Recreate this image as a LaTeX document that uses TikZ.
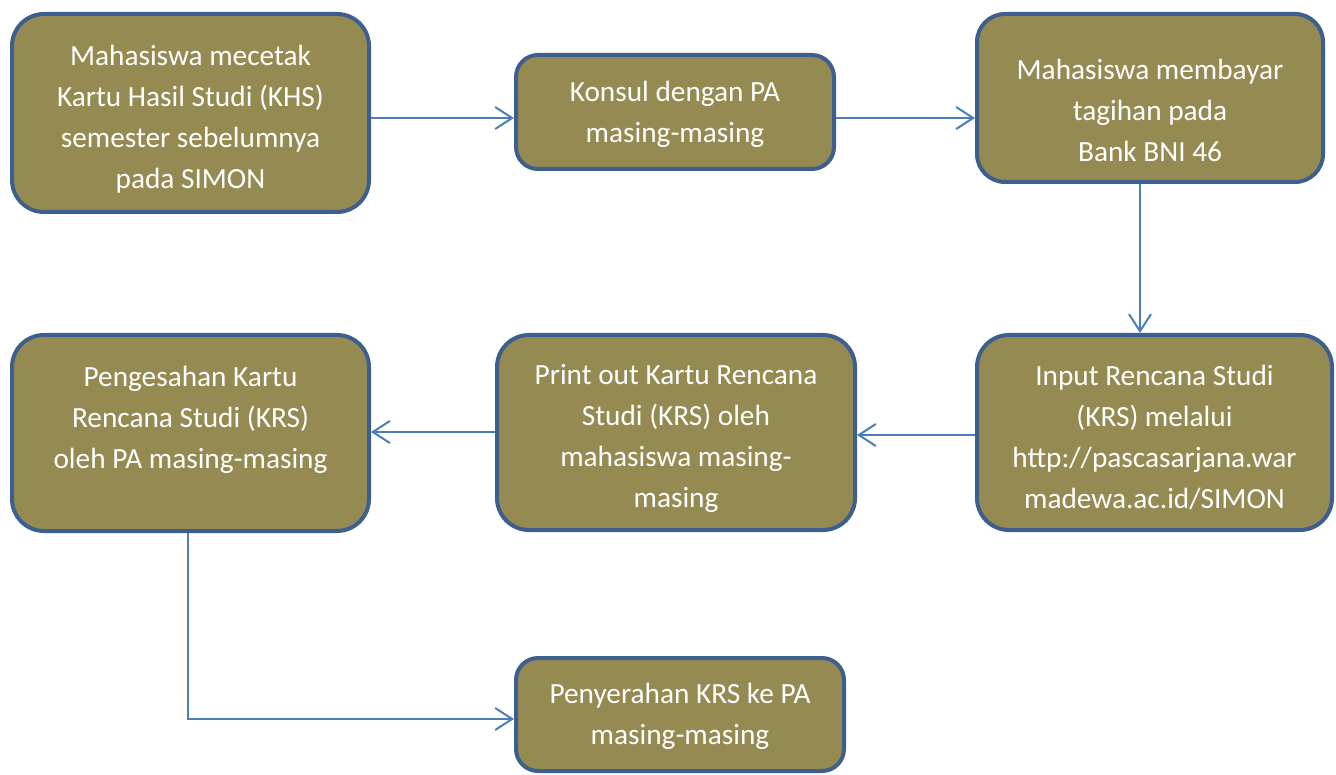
\documentclass[tikz,border=0pt]{standalone}
\usepackage{fontspec}
\setmainfont{Carlito}
\usetikzlibrary{arrows.meta,calc}
\definecolor{boxfill}{HTML}{958A52}
\definecolor{boxline}{HTML}{3C5F8E}
\definecolor{arrowc}{HTML}{4A7EBB}
% text block lowered (negative #1) or raised relative to the box centre
\newcommand\boxtext[2][-7pt]{\raisebox{#1}[0pt][0pt]{\begin{tabular}{@{}c@{}}#2\end{tabular}}}
\tikzset{
  flowbox/.style={draw=boxline, fill=boxfill, line width=4pt, rounded corners=#1,
    text=white, align=center, inner sep=0pt,
    font=\fontsize{29.3}{41}\selectfont},
  flowbox/.default=32pt,
  conn/.style={draw=arrowc, line width=2pt, -{Straight Barb[length=17pt,width=22pt,line width=2pt]}}
}
\begin{document}
\begin{tikzpicture}[x=1pt,y=-1pt]
\useasboundingbox (0,0) rectangle (1336,775);
\node[flowbox, minimum width=357pt, minimum height=198pt] (b1) at (190.5,113)
  {\boxtext[-12pt]{Mahasiswa mecetak\\Kartu Hasil Studi (KHS)\\semester sebelumnya\\pada SIMON}};
\node[flowbox=22pt, minimum width=318pt, minimum height=114pt] (b2) at (675,112)
  {\boxtext[-8pt]{Konsul dengan PA\\masing-masing}};
\node[flowbox=28pt, minimum width=346pt, minimum height=168pt] (b3) at (1150,98)
  {\boxtext[-21pt]{Mahasiswa membayar\\tagihan pada\\Bank BNI 46}};
\node[flowbox, minimum width=355pt, minimum height=195pt] (b4) at (1154.5,432.5)
  {\boxtext[-13pt]{Input Rencana Studi\\(KRS) melalui\\http://pascasarjana.war\\madewa.ac.id/SIMON}};
\node[flowbox, minimum width=358pt, minimum height=195pt] (b5) at (676,432.5)
  {\boxtext[-12pt]{Print out Kartu Rencana\\Studi (KRS) oleh\\mahasiswa masing-\\masing}};
\node[flowbox, minimum width=357pt, minimum height=196pt] (b6) at (190.5,433)
  {\boxtext[7pt]{Pengesahan Kartu\\Rencana Studi (KRS)\\oleh PA masing-masing}};
\node[flowbox=22pt, minimum width=328pt, minimum height=113pt] (b7) at (680,714.5)
  {\boxtext[-8pt]{Penyerahan KRS ke PA\\masing-masing}};
% connector end points
\coordinate (a1s) at (b1.east |- 0,118);
\coordinate (a1e) at (b2.west |- 0,118);
\coordinate (a2s) at (b2.east |- 0,118);
\coordinate (a2e) at (b3.west |- 0,118);
\coordinate (a3s) at (1140,0 |- b3.south);
\coordinate (a3e) at (1140,0 |- b4.north);
\coordinate (a4s) at (b4.west |- 0,435);
\coordinate (a4e) at (b5.east |- 0,435);
\coordinate (a5s) at (b5.west |- 0,432);
\coordinate (a5e) at (b6.east |- 0,432);
\coordinate (a6s) at (188,0 |- b6.south);
\coordinate (a6e) at (b7.west |- 0,719);
\draw[conn] (a1s) -- (a1e);
\draw[conn] (a2s) -- (a2e);
\draw[conn] (a3s) -- (a3e);
\draw[conn] (a4s) -- (a4e);
\draw[conn] (a5s) -- (a5e);
\draw[conn] (a6s) |- (a6e);
\end{tikzpicture}
\end{document}
